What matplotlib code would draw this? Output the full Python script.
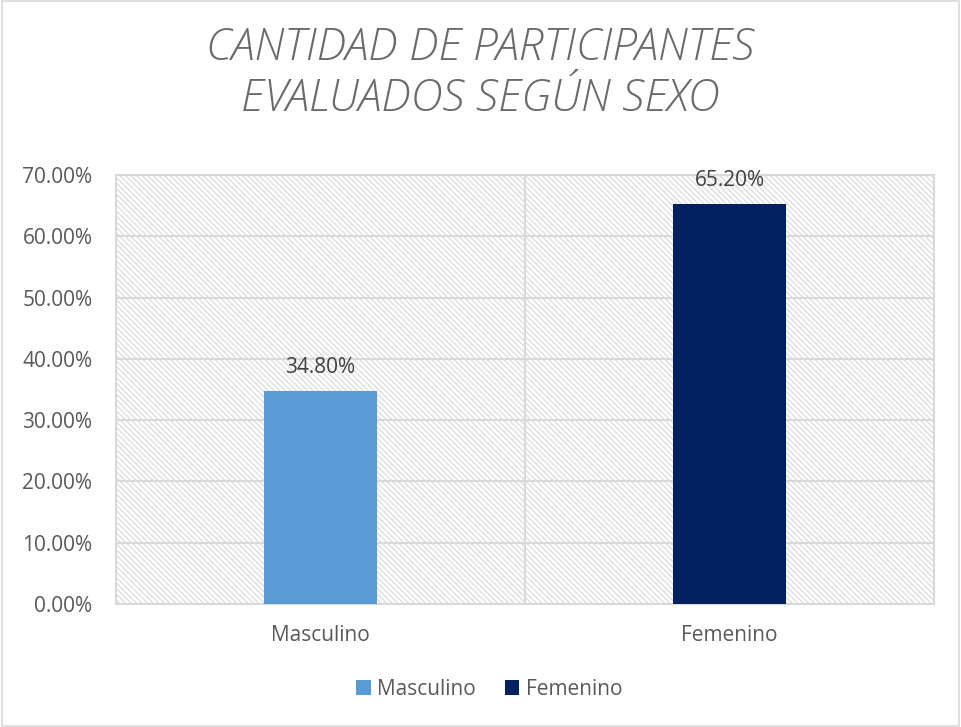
import matplotlib.pyplot as plt
from matplotlib.patches import Rectangle, Patch
from matplotlib.ticker import FuncFormatter

categories = ["Masculino", "Femenino"]
values = [34.80, 65.20]
colors = ["#5B9BD5", "#002060"]
yticks = [0, 10, 20, 30, 40, 50, 60, 70]

plt.rcParams['font.family'] = ['Open Sans', 'DejaVu Sans']
plt.rcParams['hatch.linewidth'] = 0.9

fig = plt.figure(figsize=(9.61, 7.27), dpi=100)
ax = fig.add_axes([0.1207, 0.1692, 0.8512, 0.5901])

# hatched plot area background (fine diagonal stripes)
ax.add_patch(Rectangle((0, 0), 1, 1, transform=ax.transAxes, facecolor='white',
                       edgecolor='#dcdcdc', linewidth=0, hatch=chr(92) * 6, zorder=0))

x = range(len(categories))
ax.bar(x, values, width=0.274, color=colors, zorder=3)
for i, v in enumerate(values):
    ax.annotate(f"{v:.2f}%", (i, v), xytext=(0, 17), textcoords='offset points',
                ha='center', va='center', fontsize=15, color='#404040')

ax.set_xlim(-0.5, 1.5)
ax.set_ylim(0, 70)
ax.set_yticks(yticks)
ax.yaxis.set_major_formatter(FuncFormatter(lambda v, p: f"{v:.2f}%"))
ax.set_xticks(list(x))
ax.set_xticklabels(categories)
ax.tick_params(axis='both', length=0, labelsize=15, labelcolor='#595959')
ax.tick_params(axis='x', pad=15)
ax.tick_params(axis='y', pad=17)

ax.grid(axis='y', color='#d9d9d9', linewidth=1.5, zorder=1)
ax.axvline(0.5, color='#d9d9d9', linewidth=1.5, zorder=1)
for s in ax.spines.values():
    s.set_color('#d9d9d9')
    s.set_linewidth(1.5)

fig.text(0.5, 0.899, "CANTIDAD DE PARTICIPANTES\nEVALUADOS SEGÚN SEXO", ha='center', va='center',
         fontsize=32, style='italic', color='#6a6a6a', linespacing=1.19, fontweight='light')

handles = [Patch(facecolor=c, label=l) for c, l in zip(colors, categories)]
fig.legend(handles=handles, loc='center', bbox_to_anchor=(0.509, 0.052), ncol=2, frameon=False,
           fontsize=15, handlelength=0.7, handleheight=0.7, columnspacing=1.4, handletextpad=0.3,
           labelcolor='#595959')

fig.add_artist(Rectangle((0.002, 0.002), 0.996, 0.996, transform=fig.transFigure,
                         fill=False, edgecolor='#d9d9d9', linewidth=1.2))

fig.savefig('out.png', dpi=100)
